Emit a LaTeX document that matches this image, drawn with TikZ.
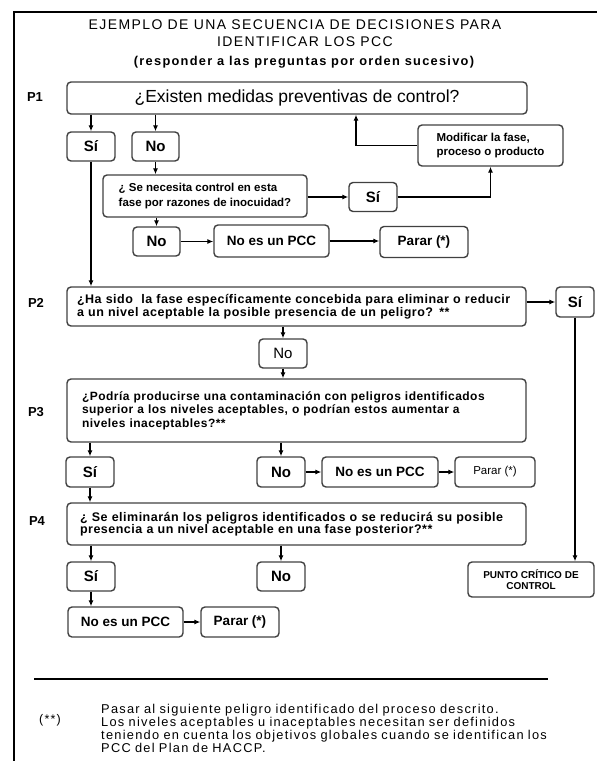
\documentclass[tikz,border=0pt]{standalone}
\usepackage{fontspec}
\setmainfont{Liberation Sans}
\newfontfamily\espaciada[LetterSpace=10]{Liberation Sans}
\newfontfamily\semiesp[LetterSpace=4]{Liberation Sans}
\usetikzlibrary{arrows.meta}

\begin{document}
\begin{tikzpicture}[x=1pt,y=-1pt,
    caja/.style={draw=black!75, line width=1.4pt, rounded corners=4pt, inner sep=0pt, align=center},
    sino/.style={caja, minimum width=48pt, minimum height=29pt, font=\fontsize{15}{17}\selectfont\bfseries},
    pcc/.style={caja, minimum width=115pt, minimum height=31pt, font=\fontsize{13.5}{16}\selectfont\bfseries},
    flecha/.style={-{Latex[length=6pt,width=5pt]}, line width=1.1pt},
    etiq/.style={font=\fontsize{13}{15}\selectfont\bfseries},
]

    % Marco
    \useasboundingbox (0,0) rectangle (597,761);
    \draw[line width=2pt] (14,761) -- (14,12) -- (597,12);

    % Titulo
    \node[font=\espaciada\fontsize{14}{16}\selectfont] (tit1) at (295,25) {EJEMPLO DE UNA SECUENCIA DE DECISIONES PARA};
    \node[font=\espaciada\fontsize{14}{16}\selectfont] (tit2) at (305,42) {IDENTIFICAR LOS PCC};
    \node[font=\espaciada\fontsize{12.8}{15}\selectfont\bfseries] (tit3) at (304,62) {(responder a las preguntas por orden sucesivo)};

    % P1
    \node[etiq] (lp1) at (35,97) {P1};
    \node[caja, minimum width=460pt, minimum height=32pt, font=\fontsize{17.5}{20}\selectfont] (p1) at (297,98) {¿Existen medidas preventivas de control?};
    \node[sino] (si1) at (91,146.5) {Sí};
    \node[sino, minimum width=47pt] (no1) at (155.5,146.5) {No};
    \node[caja, minimum width=204pt, minimum height=42pt, align=left, font=\fontsize{11.5}{15}\selectfont\bfseries] (q1) at (205,196) {¿ Se necesita control en esta\\fase por razones de inocuidad?};
    \node[sino] (si2) at (373,197) {Sí};
    \node[caja, minimum width=145pt, minimum height=41pt, align=left, font=\fontsize{11.5}{14}\selectfont\bfseries] (mod) at (490.5,145.5) {Modificar la fase,\\proceso o producto};
    \node[sino, minimum width=47pt] (no2) at (156.5,241.5) {No};
    \node[pcc, minimum height=32pt] (pcc1) at (271.5,241) {No es un PCC};
    \node[pcc, minimum width=88pt] (parar1) at (424,242) {Parar (*)};
    \coordinate (m1) at (356,0);

    % Flechas P1
    \draw[flecha] (si1 |- p1.south) -- (si1.north);
    \draw[flecha] (no1 |- p1.south) -- (no1.north);
    \draw[flecha] (no1.south) -- (no1 |- q1.north);
    \draw[flecha] (q1.east |- si2) -- (si2.west);
    \draw[flecha] (si2.east) -| (mod.south);
    \draw[flecha] (mod.west) -| (m1 |- p1.south);
    \draw[flecha] (q1.south -| no2) -- (no2.north);
    \draw[flecha] (no2.east) -- (no2.east -| pcc1.west);
    \draw[flecha] (pcc1.east) -- (pcc1.east -| parar1.west);

    % P2
    \node[etiq] (lp2) at (36,303) {P2};
    \node[caja, minimum width=459pt, minimum height=39pt, text width=439pt, align=left, font=\semiesp\fontsize{12.5}{12.5}\selectfont\bfseries] (p2) at (296.5,306.5) {¿Ha sido~ la fase específicamente concebida para eliminar o reducir\\a un nivel aceptable la posible presencia de un peligro? **};
    \node[sino, minimum width=38pt, minimum height=30pt] (sip2) at (575,302) {Sí};
    \node[sino, font=\fontsize{15}{17}\selectfont] (nop2) at (283,353.5) {No};

    % Flechas P2
    \draw[flecha] (si1.south) -- (si1 |- p2.north);
    \draw[flecha] (p2.east |- sip2) -- (sip2.west);
    \draw[flecha] (nop2 |- p2.south) -- (nop2.north);

    % P3
    \node[etiq] (lp3) at (36,412) {P3};
    \node[caja, minimum width=459pt, minimum height=63pt, text width=429pt, align=left, font=\semiesp\fontsize{12}{13.5}\selectfont\bfseries] (p3) at (296.5,410.5) {\makebox[429pt][s]{¿Podría producirse una contaminación con peligros identificados}\\\makebox[429pt][s]{superior a los niveles aceptables, o podrían estos aumentar a}\\niveles inaceptables?**};
    \node[sino, minimum height=30pt] (si3) at (90,472) {Sí};
    \node[sino, minimum height=30pt] (no3) at (281,472) {No};
    \node[pcc, minimum width=116pt, minimum height=30pt] (pcc3) at (380,472) {No es un PCC};
    \node[caja, minimum width=80pt, minimum height=30pt, font=\fontsize{11.5}{14}\selectfont] (parar3) at (495,472) {Parar (*)};

    % Flechas P3
    \draw[flecha] (nop2.south) -- (nop2 |- p3.north);
    \draw[flecha] (si3 |- p3.south) -- (si3.north);
    \draw[flecha] (no3 |- p3.south) -- (no3.north);
    \draw[flecha] (no3.east) -- (no3.east -| pcc3.west);
    \draw[flecha] (pcc3.east) -- (pcc3.east -| parar3.west);

    % P4
    \node[etiq] (lp4) at (37,521) {P4};
    \node[caja, minimum width=459pt, minimum height=42pt, text width=433pt, align=left, font=\semiesp\fontsize{12.5}{12.5}\selectfont\bfseries] (p4) at (296.5,524) {¿ Se eliminarán los peligros identificados o se reducirá su posible\\presencia a un nivel aceptable en una fase posterior?**};
    \node[sino] (si4) at (91,576.5) {Sí};
    \node[sino] (no4) at (281,576.5) {No};
    \node[pcc, minimum height=30pt] (pcc4) at (125.5,622) {No es un PCC};
    \node[pcc, minimum width=78pt, minimum height=30pt] (parar4) at (240,622) {Parar (*)};
    \node[caja, minimum width=126pt, minimum height=35pt, font=\fontsize{10}{11}\selectfont\bfseries] (punto) at (531,579.5) {PUNTO CRÍTICO DE\\CONTROL};

    % Flechas P4
    \draw[flecha] (si3.south) -- (si3 |- p4.north);
    \draw[flecha] (si4 |- p4.south) -- (si4.north);
    \draw[flecha] (no4 |- p4.south) -- (no4.north);
    \draw[flecha] (si4.south) -- (si4 |- pcc4.north);
    \draw[flecha] (pcc4.east) -- (pcc4.east -| parar4.west);
    \draw[flecha] (sip2.south) -- (sip2.south |- punto.north);

    % Nota
    \draw[line width=1.2pt] (34,679) -- (548,679);
    \node[font=\espaciada\fontsize{12.5}{15}\selectfont] (ast) at (50,720) {(**)};
    \node[anchor=west, inner sep=0pt, text width=436pt, align=left, font=\espaciada\fontsize{12.8}{13}\selectfont] (nota) at (101,728) {Pasar al siguiente peligro identificado del proceso descrito.\\\makebox[436pt][s]{Los niveles aceptables u inaceptables necesitan ser definidos}\\\makebox[436pt][s]{teniendo en cuenta los objetivos globales cuando se identifican los}\\PCC del Plan de HACCP.};

\end{tikzpicture}
\end{document}
